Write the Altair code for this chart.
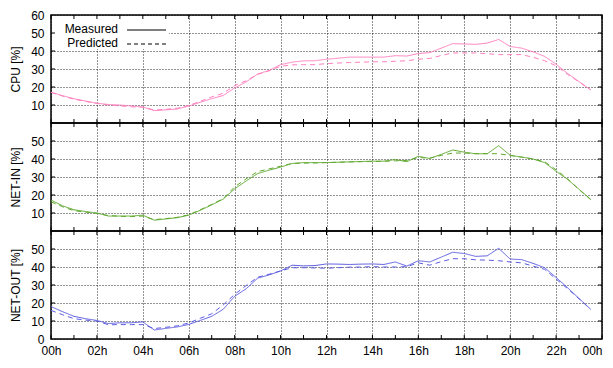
import altair as alt
import pandas as pd

HOURS = [0, 0.5, 1, 1.5, 2, 2.5, 3, 3.5, 4, 4.5, 5, 5.5, 6, 6.5, 7, 7.5,
         8, 8.5, 9, 9.5, 10, 10.5, 11, 11.5, 12, 12.5, 13, 13.5, 14, 14.5, 15, 15.5,
         16, 16.5, 17, 17.5, 18, 18.5, 19, 19.5, 20, 20.5, 21, 21.5, 22, 22.5, 23, 23.5]

CPU_MEASURED = [17.1, 15.2, 13.5, 12.2, 11.0, 10.3, 10.0, 9.5, 8.9, 6.9, 7.3, 7.8, 9.4, 11.5, 13.5, 15.3,
                19.5, 22.8, 27.2, 29.2, 32.4, 33.8, 34.5, 34.6, 35.4, 36.0, 36.6, 36.6, 36.6, 36.6, 37.4, 37.2,
                38.6, 39.1, 41.6, 44.1, 43.9, 43.7, 44.4, 46.4, 42.5, 41.6, 39.5, 37.0, 32.7, 27.5, 23.0, 18.5]
CPU_PREDICTED = [17.0, 15.0, 13.2, 12.0, 10.8, 10.0, 9.5, 9.0, 8.8, 7.2, 7.6, 8.2, 9.8, 12.0, 14.5, 16.5,
                 20.8, 23.5, 27.0, 29.0, 31.5, 32.3, 32.4, 32.4, 33.0, 33.3, 33.6, 33.8, 34.0, 34.0, 34.3, 34.6,
                 35.4, 35.9, 37.5, 38.9, 38.9, 38.9, 38.5, 38.0, 38.0, 38.0, 36.5, 34.6, 31.8, 27.0, 22.8, 18.5]

NETIN_MEASURED = [17.2, 14.0, 11.8, 10.8, 10.0, 8.3, 8.3, 8.3, 8.8, 6.0, 6.7, 7.4, 8.8, 11.5, 14.5, 17.7,
                  23.4, 27.8, 31.9, 33.8, 35.5, 37.5, 38.0, 38.0, 38.0, 38.2, 38.4, 38.6, 38.8, 38.8, 39.7, 38.5,
                  41.5, 40.3, 42.6, 45.0, 43.8, 42.9, 42.9, 47.4, 42.0, 41.1, 40.0, 38.0, 33.2, 28.7, 23.2, 17.7]
NETIN_PREDICTED = [16.2, 13.5, 11.3, 10.5, 9.8, 8.6, 8.2, 8.0, 8.3, 6.3, 6.9, 7.6, 9.0, 11.8, 14.8, 18.0,
                   24.5, 29.0, 33.0, 34.5, 36.0, 37.5, 37.7, 37.8, 38.0, 38.2, 38.4, 38.5, 38.6, 38.7, 39.0, 39.2,
                   40.8, 40.5, 42.0, 43.3, 43.3, 43.0, 43.0, 42.9, 42.0, 41.0, 40.0, 38.5, 34.0, 29.0, 23.0, 17.5]

NETOUT_MEASURED = [18.0, 15.2, 12.6, 11.3, 10.3, 8.6, 9.0, 9.0, 9.5, 5.0, 5.9, 6.7, 8.1, 10.3, 12.6, 16.5,
                   23.7, 27.9, 33.8, 35.6, 37.8, 41.0, 40.6, 40.8, 41.7, 41.6, 41.4, 41.6, 41.7, 41.4, 42.8, 40.5,
                   43.5, 42.8, 45.5, 48.2, 47.5, 45.9, 46.2, 50.4, 44.4, 44.1, 42.0, 39.6, 34.2, 28.5, 22.5, 16.6]
NETOUT_PREDICTED = [15.9, 13.5, 11.3, 10.5, 10.0, 7.9, 8.0, 8.0, 8.0, 5.8, 6.5, 7.3, 8.9, 11.5, 14.0, 18.9,
                    24.8, 29.7, 34.3, 36.0, 37.8, 39.6, 39.6, 39.5, 39.3, 39.6, 39.9, 40.0, 40.2, 40.0, 40.0, 40.2,
                    42.3, 41.0, 43.0, 44.6, 44.6, 44.0, 43.8, 43.5, 42.8, 42.3, 40.5, 38.7, 33.3, 28.0, 22.3, 16.6]

SERIES = ["Measured", "Predicted"]
TITLES = ["CPU [%]", "NET-IN [%]", "NET-OUT [%]"]
COLORS = ["#ff7fbf", "#5fa82e", "#5c5ce0"]
Y_LABELS = [[10, 20, 30, 40, 50, 60], [10, 20, 30, 40, 50], [0, 10, 20, 30, 40, 50]]
Y_TICKS = [10, 20, 30, 40, 50]
X_MAJOR = [0, 2, 4, 6, 8, 10, 12, 14, 16, 18, 20, 22, 24]
X_MINOR = [1, 3, 5, 7, 9, 11, 13, 15, 17, 19, 21, 23]

W, H = 551, 108
FONT = "Liberation Sans"
TL = 4  # inward tick length

data_sets = [(CPU_MEASURED, CPU_PREDICTED), (NETIN_MEASURED, NETIN_PREDICTED),
             (NETOUT_MEASURED, NETOUT_PREDICTED)]

xscale = alt.Scale(domain=[0, 24], nice=False, zero=False)
yscale = alt.Scale(domain=[0, 60], nice=False)

panels = []
for i, (meas, pred) in enumerate(data_sets):
    bottom = i == 2
    df = pd.DataFrame({
        "hour": HOURS + HOURS,
        "value": meas + pred,
        "series": [SERIES[0]] * len(HOURS) + [SERIES[1]] * len(HOURS),
    })
    xaxis = alt.Axis(
        values=X_MAJOR, grid=True, gridDash=[1, 2], gridColor="#000", gridOpacity=0.85,
        ticks=False, domain=False, title=None, labels=bottom,
        labelExpr="(datum.value % 24 < 10 ? '0' : '') + (datum.value % 24) + 'h'",
        labelFont=FONT, labelFontSize=12, labelColor="#000", labelPadding=6,
        labelAlign={"expr": "datum.value == 24 ? 'right' : 'center'"},
    )
    yaxis = alt.Axis(
        values=Y_LABELS[i], grid=True, gridDash=[1, 2], gridColor="#000", gridOpacity=0.85,
        ticks=False, domain=False, title=TITLES[i],
        labelFont=FONT, labelFontSize=12, labelColor="#000", labelPadding=7,
        titleFont=FONT, titleFontSize=12, titleFontWeight="normal", titleColor="#000",
        titleX=-36, titleY=H / 2, titleAngle=270, titleAlign="center", titleBaseline="middle",
    )
    lines = alt.Chart(df).mark_line(strokeWidth=1, color=COLORS[i]).encode(
        x=alt.X("hour:Q", scale=xscale, axis=xaxis),
        y=alt.Y("value:Q", scale=yscale, axis=yaxis),
        strokeDash=alt.StrokeDash("series:N", scale=alt.Scale(domain=SERIES, range=[[1, 0], [5, 4]]),
                                  legend=None),
    )
    xt = pd.DataFrame({"t": X_MAJOR + X_MINOR})
    yt = pd.DataFrame({"v": Y_TICKS})
    tick_x_top = alt.Chart(xt).mark_rule(color="#000", strokeWidth=1).encode(
        x=alt.X("t:Q", scale=xscale, axis=xaxis), y=alt.value(0), y2=alt.value(TL))
    tick_x_bot = alt.Chart(xt).mark_rule(color="#000", strokeWidth=1).encode(
        x=alt.X("t:Q", scale=xscale, axis=xaxis), y=alt.value(H - TL), y2=alt.value(H))
    tick_y_l = alt.Chart(yt).mark_rule(color="#000", strokeWidth=1).encode(
        y=alt.Y("v:Q", scale=yscale, axis=yaxis), x=alt.value(0), x2=alt.value(TL))
    tick_y_r = alt.Chart(yt).mark_rule(color="#000", strokeWidth=1).encode(
        y=alt.Y("v:Q", scale=yscale, axis=yaxis), x=alt.value(W - TL), x2=alt.value(W))

    layers = []
    if i == 0:
        key_bg = alt.Chart(pd.DataFrame({"k": [0]})).mark_rect(color="white").encode(
            x=alt.value(1), x2=alt.value(118), y=alt.value(1), y2=alt.value(34))
        layers.append(key_bg)
    layers += [lines, tick_x_top, tick_x_bot, tick_y_l, tick_y_r]
    if i == 0:
        key_rows = [(SERIES[0], 14, [1, 0]), (SERIES[1], 28, [4, 3])]
        for name, ypos, dash in key_rows:
            kd = pd.DataFrame({"label": [name]})
            layers.append(alt.Chart(kd).mark_text(align="right", baseline="middle", font=FONT,
                                                   fontSize=12, color="#000").encode(
                text="label:N", x=alt.value(67), y=alt.value(ypos)))
            layers.append(alt.Chart(kd).mark_rule(color="#000", strokeWidth=1, strokeDash=dash).encode(
                x=alt.value(76), x2=alt.value(115), y=alt.value(ypos + 1)))
    panel = alt.layer(*layers).properties(width=W, height=H)
    panels.append(panel)

chart = alt.vconcat(*panels, spacing=0, bounds="flush").configure_view(
    stroke="#000", strokeWidth=1.5
).properties(padding={"left": 0, "top": 0, "right": 0, "bottom": 0})

chart.save("out.html", embed_options={"renderer": "svg", "actions": False})
